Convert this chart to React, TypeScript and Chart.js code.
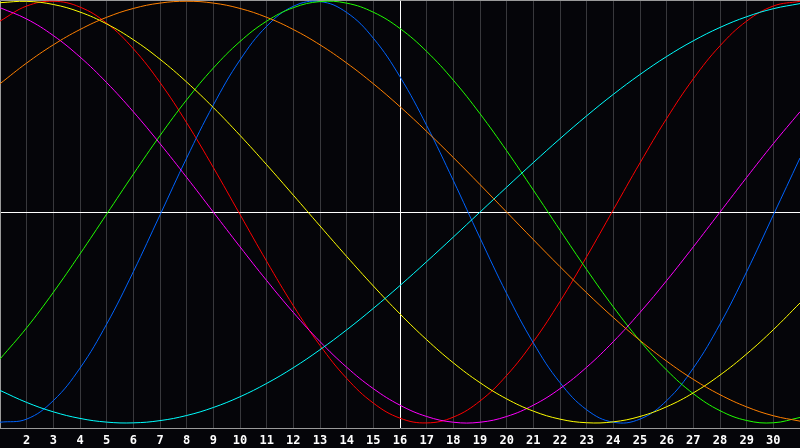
import React, { useRef, useEffect } from "react";
import { Chart, registerables } from "chart.js";

Chart.register(...registerables);

// days of the month shown on the x axis
const days = [
  1, 2, 3, 4, 5, 6, 7, 8, 9, 10, 11, 12, 13, 14, 15, 16,
  17, 18, 19, 20, 21, 22, 23, 24, 25, 26, 27, 28, 29, 30, 31,
];

// one value per day (-1 .. 1)
const blueValues = [
  -0.9966, -0.9818, -0.8941, -0.74, -0.5312, -0.2829, -0.0136, 0.2566,
  0.5078, 0.7217, 0.8815, 0.9762, 0.9985, 0.9468, 0.8248, 0.6417, 0.4109,
  0.1497, -0.1226, -0.3859, -0.6204, -0.809, -0.9376, -0.9966, -0.9818,
  -0.8941, -0.74, -0.5312, -0.2829, -0.0136, 0.2566,
];
const redValues = [
  0.9058, 0.9774, 0.9999, 0.9724, 0.896, 0.7748, 0.6147, 0.4237, 0.2115,
  -0.0112, -0.2334, -0.444, -0.6322, -0.7887, -0.9058, -0.9774, -0.9999,
  -0.9724, -0.896, -0.7748, -0.6147, -0.4237, -0.2115, 0.0112, 0.2334,
  0.444, 0.6322, 0.7887, 0.9058, 0.9774, 0.9999,
];
const greenValues = [
  -0.697, -0.5486, -0.3805, -0.1986, -0.0095, 0.1799, 0.3628, 0.5326,
  0.6832, 0.809, 0.9056, 0.9695, 0.9984, 0.9911, 0.9481, 0.8708, 0.762,
  0.6256, 0.4667, 0.2909, 0.1045, -0.0856, -0.2726, -0.4498, -0.6107,
  -0.7495, -0.8612, -0.9418, -0.9884, -0.9993, -0.974,
];
const magentaValues = [
  0.9694, 0.9158, 0.8373, 0.7357, 0.6142, 0.4759, 0.3247, 0.1646, 0.0,
  -0.1646, -0.3247, -0.4759, -0.6142, -0.7357, -0.8373, -0.9158, -0.9694,
  -0.9966, -0.9966, -0.9694, -0.9158, -0.8373, -0.7357, -0.6142, -0.4759,
  -0.3247, -0.1646, 0.0, 0.1646, 0.3247, 0.4759,
];
const yellowValues = [
  0.9932, 0.9996, 0.9847, 0.9488, 0.8927, 0.8177, 0.725, 0.6168, 0.4958,
  0.364, 0.2246, 0.0802, -0.0658, -0.2103, -0.3504, -0.483, -0.6054,
  -0.7149, -0.809, -0.886, -0.944, -0.982, -0.999, -0.9948, -0.9693,
  -0.9232, -0.8574, -0.7731, -0.6727, -0.5578, -0.431,
];
const orangeValues = [
  0.6088, 0.7071, 0.7934, 0.866, 0.9239, 0.9659, 0.9914, 1.0, 0.9914,
  0.9659, 0.9239, 0.866, 0.7934, 0.7071, 0.6088, 0.5, 0.3827, 0.2588,
  0.1305, 0.0, -0.1305, -0.2588, -0.3827, -0.5, -0.6088, -0.7071, -0.7934,
  -0.866, -0.9239, -0.9659, -0.9914,
];
const cyanValues = [
  -0.8457, -0.9028, -0.9473, -0.9785, -0.9961, -0.9996, -0.989, -0.9647,
  -0.9267, -0.8758, -0.8125, -0.738, -0.6527, -0.5586, -0.4566, -0.3482,
  -0.2348, -0.1183, 0.0, 0.1183, 0.2348, 0.3482, 0.4566, 0.5586, 0.6527,
  0.738, 0.8125, 0.8758, 0.9267, 0.9647, 0.989,
];

const series = [
  { values: cyanValues, color: "#00ffff" },
  { values: orangeValues, color: "#ff8000" },
  { values: yellowValues, color: "#ffff00" },
  { values: magentaValues, color: "#ff00ff" },
  { values: greenValues, color: "#20ff00" },
  { values: blueValues, color: "#0064ff" },
  { values: redValues, color: "#ff0000" },
];

const frame = {
  id: "frame",
  beforeDatasetsDraw(chart) {
    const { ctx, chartArea, scales } = chart;
    const y0 = Math.round(scales.y.getPixelForValue(0)) + 0.5;
    ctx.save();
    ctx.strokeStyle = "#ffffff";
    ctx.lineWidth = 1;
    ctx.beginPath();
    ctx.moveTo(chartArea.left, y0);
    ctx.lineTo(chartArea.right, y0);
    ctx.stroke();
    ctx.strokeStyle = "#9a9a9a";
    ctx.beginPath();
    ctx.moveTo(chartArea.left + 0.5, chartArea.bottom);
    ctx.lineTo(chartArea.left + 0.5, chartArea.top + 0.5);
    ctx.lineTo(chartArea.right, chartArea.top + 0.5);
    ctx.stroke();
    ctx.restore();
  },
};

const App = () => {
  const canvasRef = useRef(null);

  useEffect(() => {
    const chart = new Chart(canvasRef.current, {
      type: "line",
      data: {
        labels: days.map(String),
        datasets: series.map((s) => ({
          data: s.values,
          borderColor: s.color,
          borderWidth: 1,
          pointRadius: 0,
          tension: 0.4,
          fill: false,
        })),
      },
      options: {
        responsive: false,
        animation: false,
        devicePixelRatio: 1,
        layout: { padding: 0 },
        plugins: { legend: { display: false }, tooltip: { enabled: false } },
        scales: {
          x: {
            offset: false,
            afterFit: (scale) => {
              scale.height = 20;
              scale.paddingLeft = 0;
              scale.paddingRight = 0;
            },
            grid: {
              color: (c) => (c.index === 15 ? "#ffffff" : "#38383c"),
              drawTicks: false,
            },
            border: { color: "#9a9a9a" },
            ticks: {
              autoSkip: false,
              maxRotation: 0,
              padding: 6,
              color: "#ffffff",
              font: { family: "DejaVu Sans Mono", size: 12, weight: "bold" },
              callback: (v, i) => (i === 0 || i === days.length - 1 ? "" : days[i]),
            },
          },
          y: {
            display: false,
            min: -1.024,
            max: 1.006,
          },
        },
      },
      plugins: [frame],
    });
    return () => chart.destroy();
  }, []);

  return (
    <div
      style={{
        position: "fixed",
        left: 0,
        top: 0,
        width: 800,
        height: 448,
        background: "#050509",
      }}
    >
      <canvas ref={canvasRef} width={800} height={448} />
    </div>
  );
};

export default App;
